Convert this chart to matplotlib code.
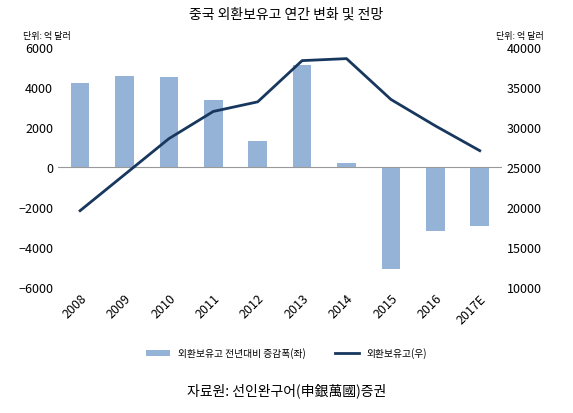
import matplotlib
matplotlib.use("Agg")
import matplotlib.pyplot as plt
import numpy as np

plt.rcParams['font.family'] = ['Noto Sans CJK KR', 'DejaVu Sans']

years = ['2008', '2009', '2010', '2011', '2012', '2013', '2014', '2015', '2016', '2017E']
change = [4200, 4520, 4480, 3330, 1300, 5100, 200, -5100, -3200, -2950]
reserves = [19500, 24000, 28500, 31900, 33100, 38250, 38500, 33400, 30100, 27000]

fig = plt.figure(figsize=(5.73, 4.14), dpi=100)
ax = fig.add_axes([0.101, 0.305, 0.775, 0.58])
x = np.arange(len(years))
ax.bar(x, change, width=0.42, color='#95b3d7', label='외환보유고 전년대비 증감폭(좌)')
ax.set_ylim(-6000, 6000)
ax.set_yticks(range(-6000, 6001, 2000))
ax.set_xlim(-0.5, len(years) - 0.5)
ax.set_xticks(x)
ax.set_xticklabels(years, rotation=45, ha='right', rotation_mode='anchor')
ax.axhline(0, color='#999999', lw=0.8)
ax2 = ax.twinx()
ax2.plot(x, reserves, color='#17375e', lw=2, label='외환보유고(우)')
ax2.set_ylim(10000, 40000)
ax2.set_yticks(range(10000, 40001, 5000))
for a in (ax, ax2):
    for s in a.spines.values():
        s.set_visible(False)
    a.tick_params(length=0, labelsize=9)

fig.text(0.5, 0.955, '중국 외환보유고 연간 변화 및 전망', ha='center', fontsize=10)
fig.text(0.04, 0.905, '단위: 억 달러', fontsize=6.5)
fig.text(0.865, 0.905, '단위: 억 달러', fontsize=6.5)
h1, l1 = ax.get_legend_handles_labels()
h2, l2 = ax2.get_legend_handles_labels()
fig.legend(h1 + h2, l1 + l2, loc='center', bbox_to_anchor=(0.5, 0.145), ncol=2,
           frameon=False, fontsize=7, handlelength=2.5, columnspacing=3)
fig.text(0.5, 0.045, '자료원: 선인완구어(申銀萬國)증권', ha='center', fontsize=10)
fig.savefig('out.png', dpi=100)
